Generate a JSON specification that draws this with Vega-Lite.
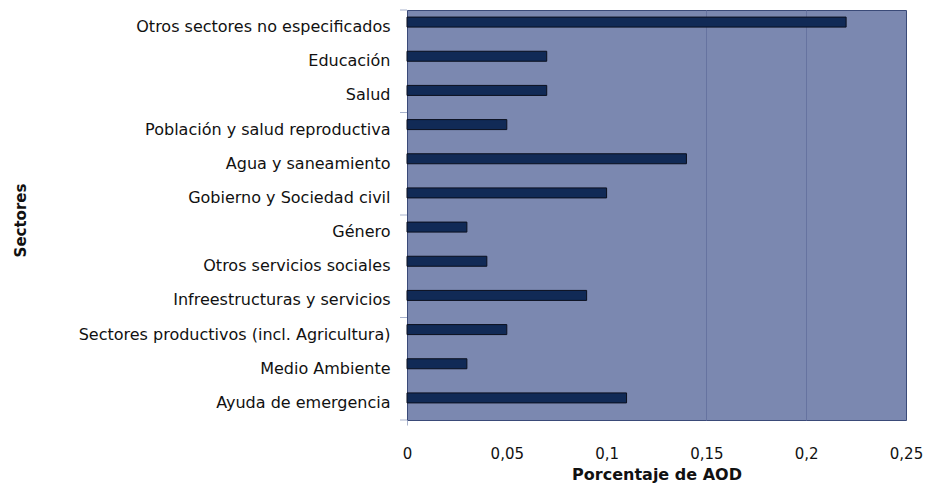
{
  "$schema": "https://vega.github.io/schema/vega-lite/v6.json",
  "autosize": {"type": "none"},
  "width": 499,
  "height": 410,
  "padding": {"left": 407, "top": 10, "right": 20, "bottom": 66},
  "background": "white",
  "config": {
    "view": {"fill": "#7b88b0", "stroke": "#3a4a78", "strokeWidth": 1},
    "font": "DejaVu Sans"
  },
  "data": {
    "values": [
      {"sector": "Otros sectores no especificados", "valor": 0.22, "tick": "start"},
      {"sector": "Educación", "valor": 0.07, "tick": "none"},
      {"sector": "Salud", "valor": 0.07, "tick": "none"},
      {"sector": "Población y salud reproductiva", "valor": 0.05, "tick": "start"},
      {"sector": "Agua y saneamiento", "valor": 0.14, "tick": "none"},
      {"sector": "Gobierno y Sociedad civil", "valor": 0.10, "tick": "none"},
      {"sector": "Género", "valor": 0.03, "tick": "start"},
      {"sector": "Otros servicios sociales", "valor": 0.04, "tick": "none"},
      {"sector": "Infreestructuras y servicios", "valor": 0.09, "tick": "none"},
      {"sector": "Sectores productivos (incl. Agricultura)", "valor": 0.05, "tick": "start"},
      {"sector": "Medio Ambiente", "valor": 0.03, "tick": "none"},
      {"sector": "Ayuda de emergencia", "valor": 0.11, "tick": "end"}
    ]
  },
  "encoding": {
    "y": {
      "field": "sector", "type": "nominal", "sort": null,
      "scale": {"paddingInner": 0, "paddingOuter": 0},
      "axis": {
        "title": "Sectores", "titleFont": "DejaVu Sans", "titleFontSize": 15, "titleFontWeight": "bold",
        "titleColor": "#111", "titleAngle": -90, "titleX": -387, "titleY": 210, "titleAlign": "center", "titleBaseline": "middle",
        "labelFont": "DejaVu Sans", "labelFontSize": 16, "labelColor": "#111", "labelPadding": 17, "labelLimit": 400,
        "ticks": false, "domain": false
      }
    }
  },
  "layer": [
    {
      "mark": {"type": "bar", "fill": "#112a56", "stroke": "#0a0f1e", "strokeWidth": 1, "height": 10, "yOffset": -5},
      "encoding": {
        "x": {
          "field": "valor", "type": "quantitative",
          "scale": {"domain": [0, 0.25], "nice": false},
          "axis": {
            "title": "Porcentaje de AOD", "titleFont": "DejaVu Sans", "titleFontSize": 16, "titleFontWeight": "bold",
            "titleColor": "#111", "titleY": 54, "titleBaseline": "middle",
            "values": [0, 0.05, 0.1, 0.15, 0.2, 0.25],
            "format": ".2~f", "labelExpr": "replace(datum.label, '.', ',')",
            "labelFont": "DejaVu Sans", "labelFontSize": 15, "labelColor": "#111", "labelPadding": 21,
            "labelFlush": false,
            "grid": true, "gridColor": "#6673a0", "gridWidth": 1,
            "gridOpacity": {"condition": {"test": "datum.value == 0.15 || datum.value == 0.2", "value": 1}, "value": 0},
            "ticks": true, "tickSize": 5, "tickColor": "#a8b2cc",
            "tickOpacity": {"condition": {"test": "datum.value == 0", "value": 1}, "value": 0},
            "domain": false
          }
        }
      }
    },
    {
      "transform": [{"filter": "datum.tick == 'start'"}],
      "mark": {"type": "rule", "color": "#a8b2cc", "strokeWidth": 1, "xOffset": -7},
      "encoding": {
        "y": {"field": "sector", "type": "nominal", "sort": null, "bandPosition": 0},
        "x": {"datum": 0},
        "x2": {"datum": 0}
      }
    },
    {
      "transform": [{"filter": "datum.tick == 'end'"}],
      "mark": {"type": "rule", "color": "#a8b2cc", "strokeWidth": 1, "xOffset": -7},
      "encoding": {
        "y": {"field": "sector", "type": "nominal", "sort": null, "bandPosition": 1},
        "x": {"datum": 0},
        "x2": {"datum": 0}
      }
    }
  ]
}
